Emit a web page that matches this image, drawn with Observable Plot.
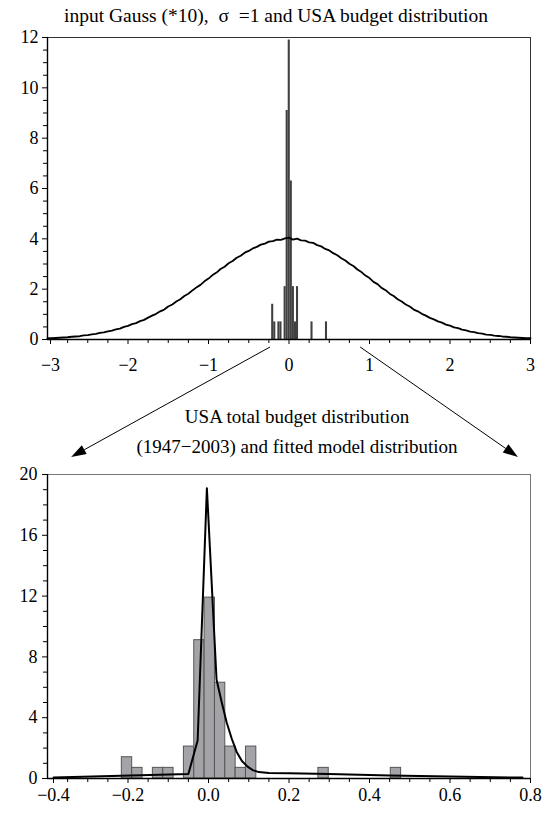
<!DOCTYPE html>
<html><head><meta charset="utf-8">
<script src="https://cdn.jsdelivr.net/npm/d3@7"></script>
<script src="https://cdn.jsdelivr.net/npm/@observablehq/plot@0.6"></script>
<style>
html,body{margin:0;padding:0;background:#fff;}
#wrap{position:relative;width:552px;height:814px;font-family:"Liberation Serif","Times New Roman",serif;color:#000;overflow:hidden;}
#title{height:32px;line-height:32px;font-size:19.5px;text-align:center;white-space:pre;}
#caption{height:90px;box-sizing:border-box;padding-top:30px;font-size:19px;line-height:30px;text-align:center;padding-left:42px;white-space:nowrap;}
#wrap svg{display:block;}
#wrap svg text{font-family:"Liberation Serif","Times New Roman",serif !important;font-size:18px !important;font-variant:normal !important;}
#arrows{position:absolute;left:0;top:0;pointer-events:none;}
</style></head>
<body>
<div id="wrap">
  <div id="title">input Gauss (*10),  σ  =1 and USA budget distribution</div>
  <div id="top"></div>
  <div id="caption">USA total budget distribution<br>(1947−2003) and fitted model distribution</div>
  <div id="bottom"></div>
</div>
<script>
// ---- Data ----
const gaussX = [-3.00,-2.95,-2.90,-2.85,-2.80,-2.75,-2.70,-2.65,-2.60,-2.55,-2.50,-2.45,-2.40,-2.35,-2.30,-2.25,-2.20,-2.15,-2.10,-2.05,
  -2.00,-1.95,-1.90,-1.85,-1.80,-1.75,-1.70,-1.65,-1.60,-1.55,-1.50,-1.45,-1.40,-1.35,-1.30,-1.25,-1.20,-1.15,-1.10,-1.05,
  -1.00,-0.95,-0.90,-0.85,-0.80,-0.75,-0.70,-0.65,-0.60,-0.55,-0.50,-0.45,-0.40,-0.35,-0.30,-0.25,-0.20,-0.15,-0.10,-0.05,
  0.00,0.05,0.10,0.15,0.20,0.25,0.30,0.35,0.40,0.45,0.50,0.55,0.60,0.65,0.70,0.75,0.80,0.85,0.90,0.95,
  1.00,1.05,1.10,1.15,1.20,1.25,1.30,1.35,1.40,1.45,1.50,1.55,1.60,1.65,1.70,1.75,1.80,1.85,1.90,1.95,
  2.00,2.05,2.10,2.15,2.20,2.25,2.30,2.35,2.40,2.45,2.50,2.55,2.60,2.65,2.70,2.75,2.80,2.85,2.90,2.95,3.00];
const gaussY = [0.05,0.05,0.06,0.07,0.08,0.09,0.11,0.12,0.13,0.16,0.17,0.20,0.22,0.26,0.28,0.32,0.35,0.40,0.43,0.50,
  0.54,0.61,0.65,0.73,0.78,0.87,0.95,1.02,1.12,1.19,1.31,1.39,1.51,1.60,1.73,1.82,1.95,2.07,2.17,2.31,
  2.42,2.56,2.66,2.80,2.89,3.03,3.12,3.25,3.33,3.45,3.52,3.62,3.68,3.77,3.81,3.89,3.91,3.97,3.96,4.02,
  4.05,3.97,4.01,3.94,3.93,3.86,3.84,3.75,3.70,3.60,3.54,3.43,3.35,3.23,3.14,3.01,2.92,2.78,2.68,2.54,
  2.44,2.29,2.20,2.05,1.96,1.82,1.73,1.60,1.51,1.39,1.31,1.19,1.12,1.02,0.95,0.86,0.80,0.72,0.67,0.59,
  0.55,0.48,0.45,0.39,0.36,0.31,0.29,0.25,0.23,0.19,0.18,0.15,0.14,0.12,0.11,0.09,0.08,0.07,0.06,0.05,0.05];

// USA total budget distribution histogram (1947-2003): bin edges and density
const binLo   = [-0.2153,-0.1896,-0.1382,-0.1125,-0.0611,-0.0354,-0.0097,0.0160,0.0417,0.0674,0.0931,0.2730,0.4529];
const binHi   = [-0.1896,-0.1639,-0.1125,-0.0868,-0.0354,-0.0097,0.0160,0.0417,0.0674,0.0931,0.1188,0.2987,0.4786];
const density = [1.4,0.7,0.7,0.7,2.1,9.1,11.9,6.3,2.1,0.7,2.1,0.7,0.7];

// fitted model distribution
const modelX = [-0.385,-0.05,-0.027,-0.004,0.02,0.033,0.045,0.058,0.07,0.083,0.097,0.11,0.125,0.15,0.2,0.3,0.45,0.6,0.78];
const modelY = [0.07,0.3,2.5,19.1,6.5,5.0,3.7,2.6,1.75,1.15,0.78,0.55,0.42,0.36,0.34,0.3,0.2,0.13,0.06];

// axis ticks
const topXTicks = [-2,-1,0,1,2,3];
const topXFirst = [-3];
const topXMinor = [-2.75,-2.5,-2.25,-1.75,-1.5,-1.25,-0.75,-0.5,-0.25,0.25,0.5,0.75,1.25,1.5,1.75,2.25,2.5,2.75];
const topYTicks = [0,2,4,6,8,10,12];
const topYMinor = [0.5,1,1.5,2.5,3,3.5,4.5,5,5.5,6.5,7,7.5,8.5,9,9.5,10.5,11,11.5];
const botXTicks = [-0.2,0,0.2,0.4,0.6,0.8];
const botXFirst = [-0.4];
const botXMinor = [-0.35,-0.3,-0.25,-0.15,-0.1,-0.05,0.05,0.1,0.15,0.25,0.3,0.35,0.45,0.5,0.55,0.65,0.7,0.75];
const botYTicks = [0,4,8,12,16,20];
const botYMinor = [1,2,3,5,6,7,9,10,11,13,14,15,17,18,19];

// zoom arrows: from top-chart x value to bottom-chart x value
const zoomArrows = [{from: -0.23, to: -0.34}, {from: 0.89, to: 0.77}];

// ---- Tables ----
const gauss = gaussX.map((x, i) => ({x, y: gaussY[i]}));
const bins = binLo.map((lo, i) => ({lo, hi: binHi[i], d: density[i]}));
const model = modelX.map((x, i) => ({x, y: modelY[i]}));

const minus = d => (d < 0 ? "\u2212" + Math.abs(d) : String(d));
const none = () => "";
const fmt1 = d3.format(".1f");
const FF = "Liberation Serif, Times New Roman, serif";
const font = {fontFamily: FF, fontSize: "18px", background: "white", overflow: "visible"};

const topPlot = Plot.plot({
  width: 552, height: 340,
  marginLeft: 47, marginRight: 22, marginTop: 5, marginBottom: 33,
  style: font,
  x: {domain: [-3, 3]},
  y: {domain: [0, 12]},
  marks: [
    Plot.frame({stroke: "#333", strokeWidth: 1}),
    Plot.rect(bins, {x1: "lo", x2: "hi", y1: 0, y2: "d", fill: "#404040"}),
    Plot.line(gauss, {x: "x", y: "y", stroke: "black", strokeWidth: 1.8}),
    Plot.axisX({ticks: topXMinor, tickSize: 4, tickFormat: none, label: null}),
    Plot.axisX({ticks: topXTicks, tickSize: 5, tickPadding: 14, tickFormat: minus, label: null}),
    Plot.axisX({ticks: topXFirst, tickSize: 5, tickPadding: 14, tickFormat: minus, label: null, dx: 3}),
    Plot.axisY({ticks: topYMinor, tickSize: 4, tickFormat: none, label: null}),
    Plot.axisY({ticks: topYTicks, tickSize: 5, tickPadding: 4, tickFormat: minus, label: null}),
    Plot.ruleY([0], {stroke: "black", strokeWidth: 1.4}),
    Plot.ruleX([-3], {stroke: "black", strokeWidth: 1.4})
  ]
});

const botPlot = Plot.plot({
  width: 552, height: 352,
  marginLeft: 47, marginRight: 22, marginTop: 12, marginBottom: 36,
  style: font,
  x: {domain: [-0.4, 0.8]},
  y: {domain: [0, 20]},
  marks: [
    Plot.frame({stroke: "#777", strokeWidth: 1}),
    Plot.rect(bins, {x1: "lo", x2: "hi", y1: 0, y2: "d", fill: "#a4a4a8", stroke: "#555", strokeWidth: 1}),
    Plot.line(model, {x: "x", y: "y", stroke: "black", strokeWidth: 2}),
    Plot.axisX({ticks: botXMinor, tickSize: 4, tickFormat: none, label: null}),
    Plot.axisX({ticks: botXTicks, tickSize: 5, tickPadding: 5, tickFormat: fmt1, label: null}),
    Plot.axisX({ticks: botXFirst, tickSize: 5, tickPadding: 5, tickFormat: fmt1, label: null, dx: 6}),
    Plot.axisY({ticks: botYMinor, tickSize: 4, tickFormat: none, label: null}),
    Plot.axisY({ticks: botYTicks, tickSize: 5, tickPadding: 5, tickFormat: String, label: null}),
    Plot.ruleY([0], {stroke: "black", strokeWidth: 1.4}),
    Plot.ruleX([-0.4], {stroke: "black", strokeWidth: 1.4})
  ]
});

document.getElementById("top").append(topPlot);
document.getElementById("bottom").append(botPlot);

// ---- arrows linking the two charts ----
const wrap = document.getElementById("wrap");
const wr = wrap.getBoundingClientRect();
const r1 = topPlot.getBoundingClientRect();
const r2 = botPlot.getBoundingClientRect();
const tx = topPlot.scale("x"), ty = topPlot.scale("y");
const bx = botPlot.scale("x"), by = botPlot.scale("y");
const svg = d3.select(wrap).append("svg").attr("id", "arrows").attr("width", 552).attr("height", 814);
const headLen = 15, headHalf = 5;
for (const a of zoomArrows) {
  const x1 = tx.apply(a.from) + r1.left - wr.left;
  const y1 = ty.apply(0) + r1.top - wr.top + 8;
  const x2 = bx.apply(a.to) + r2.left - wr.left;
  const y2 = by.apply(20) + r2.top - wr.top - 17;
  const dx = x2 - x1, dy = y2 - y1, L = Math.hypot(dx, dy);
  const ux = dx / L, uy = dy / L;
  const bxp = x2 - ux * headLen, byp = y2 - uy * headLen;
  svg.append("line").attr("x1", x1).attr("y1", y1).attr("x2", bxp).attr("y2", byp)
    .attr("stroke", "black").attr("stroke-width", 1);
  svg.append("polygon")
    .attr("points", [[x2, y2], [bxp - uy * headHalf, byp + ux * headHalf], [bxp + uy * headHalf, byp - ux * headHalf]].map(p => p.join(",")).join(" "))
    .attr("fill", "black");
}
</script>
</body></html>
